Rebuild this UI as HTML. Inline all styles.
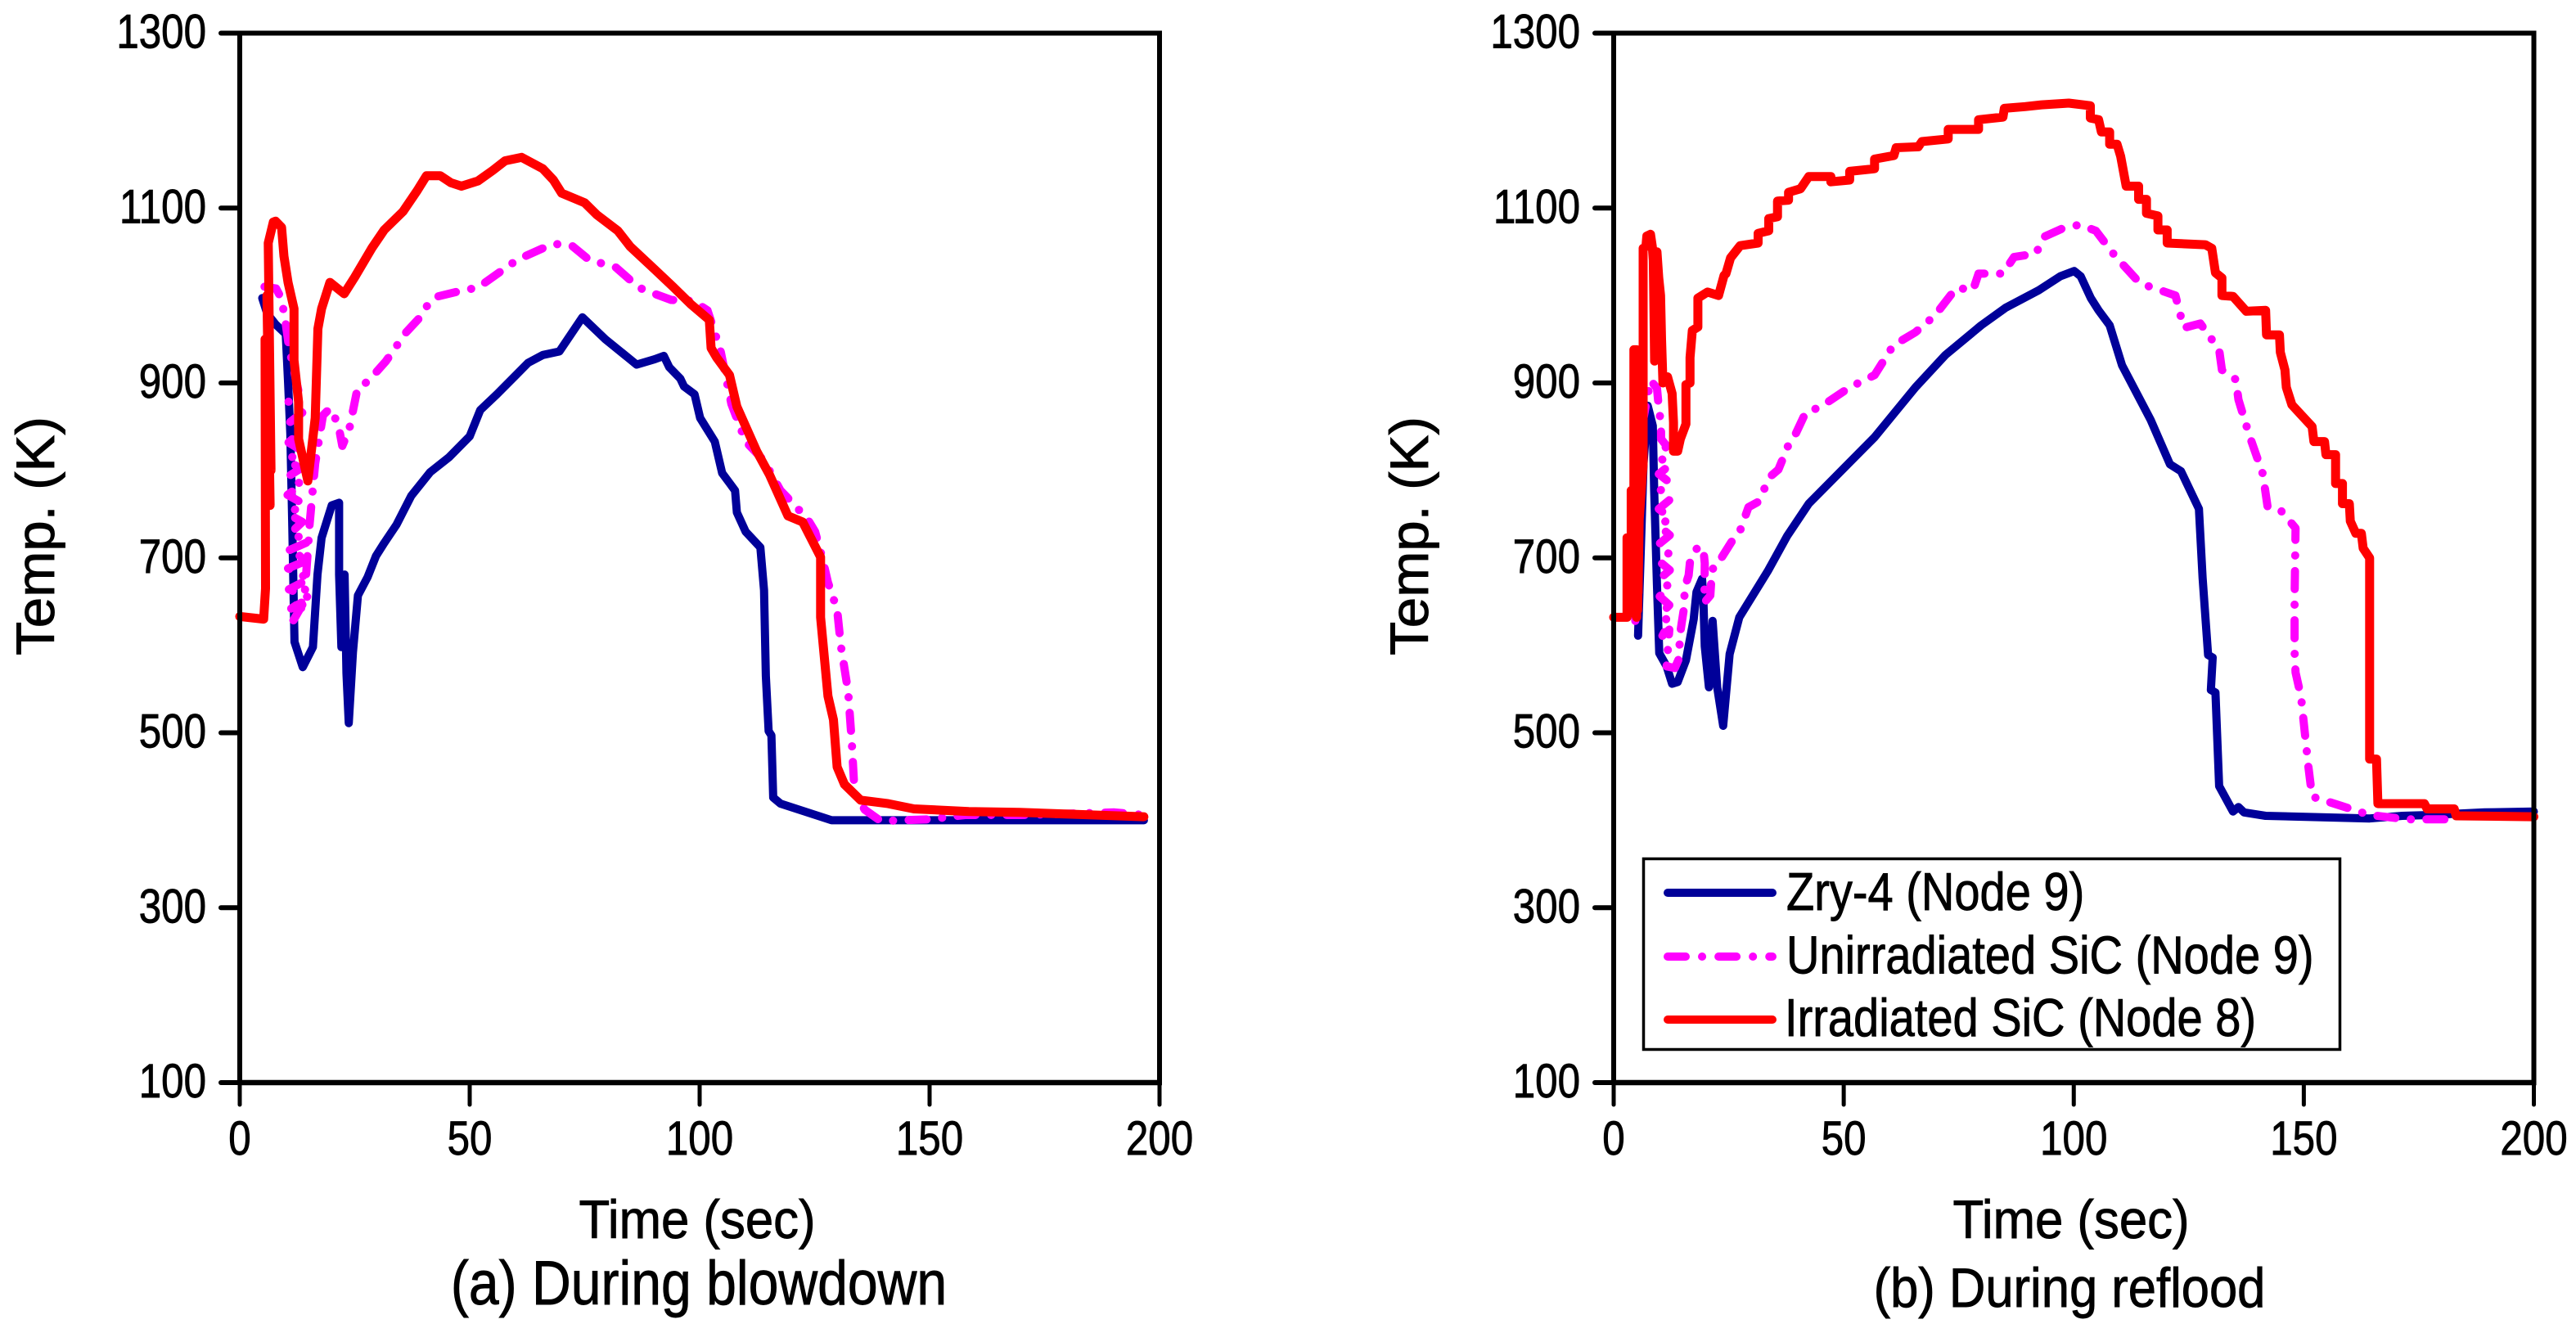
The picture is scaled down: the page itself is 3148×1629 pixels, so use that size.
<!DOCTYPE html>
<html lang="en">
<head>
<meta charset="utf-8">
<title>Cladding temperature during blowdown and reflood</title>
<style>
  html, body { margin: 0; padding: 0; background: #fff; }
  svg { display: block; }
  text { font-family: "Liberation Sans", Arial, sans-serif; fill: #000; stroke: #000; stroke-width: 0.9px; }
</style>
</head>
<body>
<svg id="chart" xmlns="http://www.w3.org/2000/svg" width="3148" height="1629" viewBox="0 0 3148 1629">
  <rect x="0" y="0" width="3148" height="1629" fill="#fff"/>
  <g id="panel-a"></g>
  <g id="panel-b"></g>

  <text font-size="66" text-anchor="middle" transform="translate(66,655) rotate(-90) scale(1.02,1)">Temp. (K)</text>
  <text font-size="66" text-anchor="middle" transform="translate(1745,655) rotate(-90) scale(1.02,1)">Temp. (K)</text>
  <text font-size="66" text-anchor="middle" transform="translate(852,1513) scale(.935,1)">Time (sec)</text>
  <text font-size="66" text-anchor="middle" transform="translate(2531,1513) scale(.935,1)">Time (sec)</text>
  <text font-size="76" text-anchor="middle" transform="translate(854,1594) scale(.87,1)">(a) During blowdown</text>
  <text font-size="68" text-anchor="middle" transform="translate(2529,1597) scale(.905,1)">(b) During reflood</text>

  <g>
    <rect x="2008.5" y="1049.5" width="851" height="233" fill="#fff" stroke="#000" stroke-width="3.5"/>
    <line x1="2038" y1="1091" x2="2166" y2="1091" stroke="#000099" stroke-width="10" stroke-linecap="round"/>
    <text font-size="65" transform="translate(2183,1112) scale(.862,1)">Zry-4 (Node 9)</text>
    <line x1="2038" y1="1169" x2="2166" y2="1169" stroke="#ff00ff" stroke-width="10" stroke-linecap="round" stroke-dasharray="22 20 0.1 20"/>
    <text font-size="65" transform="translate(2183,1189.5) scale(.862,1)">Unirradiated SiC (Node 9)</text>
    <line x1="2038" y1="1246" x2="2166" y2="1246" stroke="#ff0000" stroke-width="10" stroke-linecap="round"/>
    <text font-size="65" transform="translate(2181,1266) scale(.862,1)">Irradiated SiC (Node 8)</text>
  </g>
</svg>

<script>
// Tick labels (axis values)
const xTickValues = [0, 50, 100, 150, 200];
const yTickValues = [100, 300, 500, 700, 900, 1100, 1300];

// Panel (a): During blowdown
const blowdownZryTime = [4.9,6,7.8,10,10.5,11,11.4,11.9,13.7,15.9,16.9,17.8,20,21.6,21.6,22.1,22.8,23.2,23.7,24.6,25.7,27.8,29.6,31.4,34.1,37.3,41.4,45.5,50,52.3,55.9,62.7,65.9,69.5,74.5,79.5,86.3,90.2,92.2,93.4,95.8,96.6,98.9,100.1,103.3,104.9,107.7,108.1,110,113.2,114,114.4,115,115.6,116,117.6,128.7,196.6];
const blowdownZryTemp = [997,979,967,956,902,842,741,604,575,598,681,723,760,763,681,598,681,568,511,592,657,678,702,717,738,771,798,815,839,869,887,923,932,936,975,950,921,927,931,918,905,896,887,860,833,797,777,752,730,712,663,565,502,497,426,419,400,400];

const blowdownUnirrTime = [5.4,7.9,9,9.8,10.73,12.8,10.5,13.6,10.4,13.4,10.6,13.7,10.3,13.2,10.5,13.5,10.4,13.8,10.6,13.6,11,15.2,10.4,15,10.5,15.1,10.7,14.9,11.2,14.5,11.6,14,14.9,15.2,15.8,16.4,17.6,18.1,19.6,21.4,22.3,23.8,25.6,27.9,31.8,36.2,39.2,41.3,43.1,48.6,51.8,58.2,60.4,65.9,68.6,72.2,75.9,81.8,86.8,90.2,93.8,98.5,101.7,104.5,106.9,110,114,117.6,120,123.5,125.1,126.7,127.9,129.9,130.7,132.3,133.1,133.7,135.9,139.4,149.8,157.7,169.6,190.2,196.6];
const blowdownUnirrTemp = [1010,1008,997,975,940,890,878,866,853,845,832,822,812,802,793,784,772,762,750,741,728,719,708,698,688,676,664,655,642,652,628,650,715,739,774,808,847,863,871,853,828,847,894,902,925,958,975,993,999,1006,1009,1033,1041,1054,1059,1057,1041,1032,1009,1002,995,994,983,938,876,833,811,777,764,744,730,699,672,641,600,547,488,430,412,399,401,406,406,409,406];

const blowdownIrrTime = [0,5.2,5.6,5.5,6.6,5.9,6.8,6.2,7.3,7.8,9.1,9.6,10.5,11.8,11.8,12.8,12.8,14.8,16.4,17,17.8,19.6,22.7,25,28.7,31.4,35.5,38.6,40.6,43.6,45.9,48.2,51.8,55,57.7,61.3,65.9,68.2,70,75,77.7,82.2,84.9,90.2,94.2,98.1,102.1,102.5,103.7,106.5,108.1,112.4,115.2,119.2,122.4,126.3,126.3,127.9,129.1,129.9,131.5,135,141,146.6,158.5,169.6,196.6];
const blowdownIrrTemp = [633,630,665,950,760,1000,800,1060,1084,1085,1078,1045,1015,985,926,878,836,788,860,962,985,1015,1002,1021,1054,1075,1096,1120,1137,1137,1129,1125,1131,1143,1154,1158,1145,1132,1117,1106,1092,1074,1056,1030,1010,990,972,940,929,909,873,822,795,748,741,701,632,542,515,461,441,423,419,413,410,409,404];

// Panel (b): During reflood
const refloodZryTime = [5.3,6.5,7.4,8.5,8.8,9.4,9.9,11.5,12.7,13.9,15.7,17.4,18,19.2,19.5,19.8,20.7,21.5,22.5,23.8,25.2,27.3,33.5,37.7,42.4,56.7,65.6,72.1,79.9,85.2,92.4,97.1,100.1,101.5,103.7,105.4,107.8,110.5,116.7,120.9,123.3,127.2,128,129.2,130.2,129.8,130.8,131.6,134.6,135.8,137,141.7,164.3,171.4,177.4,189.3,200];
const refloodZryTemp = [611,808,874,851,777,669,591,576,556,558,583,630,661,676,653,599,552,628,552,508,590,632,685,725,762,838,895,932,966,986,1006,1022,1028,1022,997,983,966,920,858,807,799,756,677,589,586,549,546,439,410,415,409,405,402,405,406,409,410];

const refloodUnirrTime = [4.7,6.5,8,9.4,9.7,10.3,10.3,11.5,9.9,12.2,9.8,12.2,9.9,12.1,9.8,12.2,10,12.2,9.9,12.1,9.9,12.2,10,12.2,10,12.1,10.3,12.1,10.6,12.1,11.5,13.3,14.2,14.4,14.8,15.2,15.5,16.3,16.6,18.3,19.5,19.8,19.7,21,21.3,21.9,23.4,25.7,27.2,29.3,31.4,34,35.8,38.2,39.4,41.8,44.8,51.3,56.7,60.8,65.6,69.8,74.5,78.1,79.3,84.6,87,91.8,93.5,97.7,101.3,104.8,109,114.4,122.1,123.9,127.5,131.6,132.2,135.2,135.8,138.1,141.1,142.1,144.7,148.2,148,148,148.2,149.4,151,151.8,158.4,164.3,172.6,183.3];
const refloodUnirrTemp = [628,860,903,894,878,851,836,828,815,806,796,786,776,766,756,746,736,726,716,706,696,686,676,666,656,646,636,626,611,618,576,574,585,612,626,640,667,680,696,713,710,694,649,657,682,694,700,719,727,758,764,793,801,832,840,867,872,895,909,943,958,977,1009,1006,1025,1025,1044,1048,1067,1077,1081,1074,1045,1014,1000,963,968,938,915,904,881,841,796,759,756,734,654,592,569,541,461,427,416,406,401,401];

const refloodIrrTime = [0,2.9,2.9,3.8,3.8,4.4,4.4,5,5,3.5,4.4,5.2,6,5.3,6,5.5,6.4,6.4,7,7.2,8,8.4,8.6,8.9,9.4,9.8,10.2,10.4,10.7,11.7,12.7,13,13,13.9,14.5,15.7,15.7,16.6,16.6,17.1,18.3,18.3,20.4,22.8,24,24.4,25.4,25.4,27.5,31.4,31.4,33.7,33.7,35.6,35.6,38,38,40.6,42.4,47.2,47.2,51.3,51.3,56.7,56.7,60.9,61.4,66.2,67,72.7,72.7,79.3,79.3,84.6,84.9,89.4,93,98.9,103.6,103.6,105.4,106,107.8,107.8,109.4,110.2,111.4,114.1,114.1,115.8,115.8,118.3,118.3,120.3,120.3,128.6,130,130.8,132.2,132.2,134.6,137.5,141.7,141.9,144.7,144.9,145.9,146.2,147.4,151.8,152.2,154.5,154.8,156.9,156.9,158.4,158.4,159.9,160.1,161.3,162.5,162.9,164.3,164.3,165.8,166.1,176.2,176.8,182.7,183.1,200];
const refloodIrrTemp = [632,632,723,723,777,777,938,938,632,650,720,640,900,660,930,740,808,1054,1056,1068,1070,1056,1040,925,1050,1020,1000,950,900,907,888,855,822,822,836,853,898,900,929,960,964,997,1004,1000,1023,1025,1043,1043,1057,1060,1071,1074,1088,1090,1108,1109,1118,1122,1136,1136,1130,1132,1142,1145,1156,1160,1169,1170,1176,1179,1190,1190,1201,1204,1214,1216,1218,1220,1217,1203,1201,1187,1187,1173,1173,1159,1125,1125,1110,1110,1094,1091,1075,1075,1060,1058,1054,1026,1020,1000,999,982,983,955,955,935,915,895,875,850,833,833,818,818,785,785,762,762,742,728,728,711,700,470,470,419,419,413,413,405,404];

const SVG_NS = 'http://www.w3.org/2000/svg';
const X_MIN = 0, X_MAX = 200, Y_MIN = 100, Y_MAX = 1300;
const PLOT_TOP = 40.5, PLOT_BOTTOM = 1323;

function makeAxisFunctions(left, right) {
  return {
    x: function (v) { return left + (v - X_MIN) / (X_MAX - X_MIN) * (right - left); },
    y: function (v) { return PLOT_BOTTOM - (v - Y_MIN) / (Y_MAX - Y_MIN) * (PLOT_BOTTOM - PLOT_TOP); }
  };
}

function addLine(parent, x1, y1, x2, y2, width, cap, name) {
  const el = document.createElementNS(SVG_NS, 'line');
  el.setAttribute('x1', x1);
  el.setAttribute('y1', y1);
  el.setAttribute('x2', x2);
  el.setAttribute('y2', y2);
  el.setAttribute('stroke', '#000');
  el.setAttribute('stroke-width', width);
  el.setAttribute('stroke-linecap', cap);
  
  
  parent.appendChild(el);
}

function addTickLabel(parent, x, y, label, anchor, name) {
  const el = document.createElementNS(SVG_NS, 'text');
  el.setAttribute('font-size', '58');
  el.setAttribute('text-anchor', anchor);
  el.setAttribute('transform', 'translate(' + x + ',' + y + ') scale(.85,1)');
  el.textContent = String(label);
  
  
  parent.appendChild(el);
}

function addSeries(parent, axes, times, temps, color, width, dash, name) {
  const el = document.createElementNS(SVG_NS, 'path');
  const d = times.map(function (t, i) {
    return (i ? 'L' : 'M') + axes.x(t).toFixed(1) + ' ' + axes.y(temps[i]).toFixed(1);
  }).join(' ');
  el.setAttribute('d', d);
  el.setAttribute('fill', 'none');
  el.setAttribute('stroke', color);
  el.setAttribute('stroke-width', width);
  el.setAttribute('stroke-linecap', 'round');
  el.setAttribute('stroke-linejoin', 'round');
  if (dash) el.setAttribute('stroke-dasharray', dash);
  
  
  parent.appendChild(el);
}

function drawPanel(parent, left, right, prefix, series) {
  const axes = makeAxisFunctions(left, right);

  series.forEach(function (s) {
    addSeries(parent, axes, s.t, s.v, s.color, s.width, s.dash, prefix + '-' + s.name + '-line');
  });

  addLine(parent, left, PLOT_TOP, right + 3, PLOT_TOP, 6, 'butt', prefix + '-top-axis-line');
  addLine(parent, left, PLOT_TOP, left, PLOT_BOTTOM, 6, 'butt', prefix + '-y-axis-line');
  addLine(parent, right, PLOT_TOP, right, PLOT_BOTTOM, 6, 'butt', prefix + '-right-axis-line');
  addLine(parent, left, PLOT_BOTTOM, right + 3, PLOT_BOTTOM, 6.5, 'butt', prefix + '-x-axis-line');

  yTickValues.forEach(function (v) {
    addLine(parent, left - 23, axes.y(v), left, axes.y(v), 6, 'round', prefix + '-y-tick-' + v);
    addTickLabel(parent, left - 41, axes.y(v) + 18, v, 'end', prefix + '-y-tick-label-' + v);
  });
  xTickValues.forEach(function (v) {
    addLine(parent, axes.x(v), PLOT_BOTTOM, axes.x(v), PLOT_BOTTOM + 27, 5, 'round', prefix + '-x-tick-' + v);
    addTickLabel(parent, axes.x(v), 1411, v, 'middle', prefix + '-x-tick-label-' + v);
  });
}

drawPanel(document.getElementById('panel-a'), 293, 1417, 'blowdown', [
  { name: 'zry4', t: blowdownZryTime, v: blowdownZryTemp, color: '#000099', width: 10 },
  { name: 'unirradiated-sic', t: blowdownUnirrTime, v: blowdownUnirrTemp, color: '#ff00ff', width: 10, dash: '22 19 0.1 19' },
  { name: 'irradiated-sic', t: blowdownIrrTime, v: blowdownIrrTemp, color: '#ff0000', width: 11 }
]);

drawPanel(document.getElementById('panel-b'), 1972, 3096.5, 'reflood', [
  { name: 'zry4', t: refloodZryTime, v: refloodZryTemp, color: '#000099', width: 10 },
  { name: 'unirradiated-sic', t: refloodUnirrTime, v: refloodUnirrTemp, color: '#ff00ff', width: 10, dash: '22 19 0.1 19' },
  { name: 'irradiated-sic', t: refloodIrrTime, v: refloodIrrTemp, color: '#ff0000', width: 11 }
]);
</script>
</body>
</html>
